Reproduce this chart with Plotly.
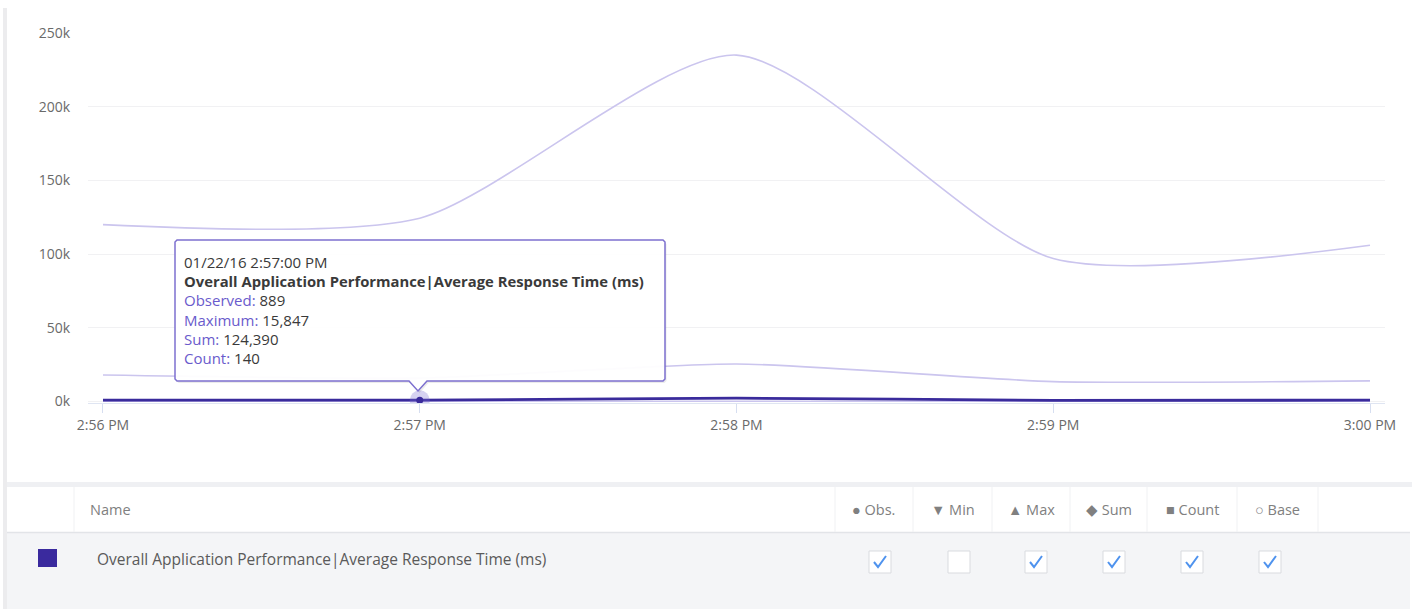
import plotly.graph_objects as go

# data (1-minute samples)
times = ["2016-01-22 14:56:00", "2016-01-22 14:57:00", "2016-01-22 14:58:00",
         "2016-01-22 14:59:00", "2016-01-22 15:00:00"]
observed = [950, 889, 2300, 800, 900]
maximum = [18000, 15847, 25500, 13500, 14000]
sums = [120000, 124390, 235000, 97000, 106000]
counts = [150, 140, 160, 130, 140]

y_ticks = [0, 50000, 100000, 150000, 200000, 250000]
y_ticktext = ["0k", "50k", "100k", "150k", "200k", "250k"]

metric_name = "Overall Application Performance|Average Response Time (ms)"
hover_idx = 1
hover_label = "01/22/16 2:57:00 PM"

columns = ["● Obs.", "▼ Min", "▲ Max", "◆ Sum", "■ Count", "○ Base"]
checked = [True, False, True, True, True, True]

W, H = 1416, 609
L, R, T, B = 88, 31, 33, 206
PW, PH = W - L - R, H - T - B

def px(x):
    return (x - L) / PW

def py(y):
    return (H - B - y) / PH

LIGHT = "#cbc5ee"
DARK = "#3a2b9c"
ACCENT = "#6a5bcc"
FONT = "Open Sans"

fig = go.Figure()
fig.add_trace(go.Scatter(x=times, y=sums, mode="lines", line=dict(color=LIGHT, width=1.6, shape="spline", smoothing=0.7), hoverinfo="skip"))
fig.add_trace(go.Scatter(x=times, y=maximum, mode="lines", line=dict(color=LIGHT, width=1.6, shape="spline", smoothing=0.6), hoverinfo="skip"))
fig.add_trace(go.Scatter(x=times, y=counts, mode="lines", line=dict(color=LIGHT, width=1.5, shape="spline"), hoverinfo="skip"))
fig.add_trace(go.Scatter(x=times, y=observed, mode="lines", line=dict(color=DARK, width=2.8, shape="spline", smoothing=0.6), hoverinfo="skip"))
# hovered point with halo
fig.add_trace(go.Scatter(x=[times[hover_idx]], y=[observed[hover_idx]], mode="markers",
                         marker=dict(size=20, color="rgba(120,105,210,0.3)"), hoverinfo="skip"))
fig.add_trace(go.Scatter(x=[times[hover_idx]], y=[observed[hover_idx]], mode="markers",
                         marker=dict(size=7, color=DARK), hoverinfo="skip"))

shapes = []
annotations = []

# tooltip box with pointer
def path(points):
    s = "M " + " L ".join("%.5f,%.5f" % (px(x), py(y)) for x, y in points) + " Z"
    return s

box = [(177, 240), (663, 240), (665, 242), (665, 379), (663, 381), (427, 381), (418, 391),
       (409, 381), (177, 381), (175, 379), (175, 242)]
shadow = [(x + 1.5, y + 2) for x, y in box]
shapes.append(dict(type="path", xref="paper", yref="paper", path=path(shadow),
                   fillcolor="rgba(0,0,0,0.08)", line=dict(width=0)))
shapes.append(dict(type="path", xref="paper", yref="paper", path=path(box),
                   fillcolor="rgba(255,255,255,0.96)", line=dict(color="#7d70cf", width=1.5)))

tip_lines = [
    hover_label,
    "<b>%s</b>" % metric_name,
    "<span style='color:%s'>Observed:</span> %s" % (ACCENT, f"{observed[hover_idx]:,}"),
    "<span style='color:%s'>Maximum:</span> %s" % (ACCENT, f"{maximum[hover_idx]:,}"),
    "<span style='color:%s'>Sum:</span> %s" % (ACCENT, f"{sums[hover_idx]:,}"),
    "<span style='color:%s'>Count:</span> %s" % (ACCENT, f"{counts[hover_idx]:,}"),
]
for i, t in enumerate(tip_lines):
    annotations.append(dict(xref="paper", yref="paper", x=px(182), y=py(262 + 19.2 * i), text=t,
                            showarrow=False, xanchor="left", yanchor="middle",
                            font=dict(family=FONT, size=15 if i != 1 else 14.8, color="#3a3a3a")))

# panel border on left
shapes.append(dict(type="rect", xref="paper", yref="paper", x0=px(3), x1=px(7), y0=py(609), y1=py(8),
                   fillcolor="#ececee", line=dict(width=0), layer="below"))

# table area
shapes.append(dict(type="rect", xref="paper", yref="paper", x0=px(7), x1=px(1412), y0=py(487), y1=py(482),
                   fillcolor="#eff0f3", line=dict(width=0)))
shapes.append(dict(type="rect", xref="paper", yref="paper", x0=px(7), x1=px(1410), y0=py(609), y1=py(533),
                   fillcolor="#f4f5f7", line=dict(width=0)))
shapes.append(dict(type="line", xref="paper", yref="paper", x0=px(7), x1=px(1410), y0=py(532.5), y1=py(532.5),
                   line=dict(color="#e2e4e8", width=1.5)))

seps = [74, 835, 913, 992, 1070, 1147, 1237, 1318]
for s in seps:
    shapes.append(dict(type="line", xref="paper", yref="paper", x0=px(s), x1=px(s), y0=py(487), y1=py(532),
                       line=dict(color="#f0f1f3", width=1)))

annotations.append(dict(xref="paper", yref="paper", x=px(88), y=py(509), text="Name", showarrow=False,
                        xanchor="left", yanchor="middle", font=dict(family=FONT, size=14.5, color="#808080")))
for i, c in enumerate(columns):
    cx = (seps[i + 1] + seps[i + 2]) / 2
    annotations.append(dict(xref="paper", yref="paper", x=px(cx), y=py(509), text=c, showarrow=False,
                            xanchor="center", yanchor="middle", font=dict(family=FONT, size=14.5, color="#808080")))

# series row
shapes.append(dict(type="rect", xref="paper", yref="paper", x0=px(38), x1=px(57), y0=py(567), y1=py(549),
                   fillcolor="#3a2a9e", line=dict(width=0)))
annotations.append(dict(xref="paper", yref="paper", x=px(95), y=py(559), text=metric_name, showarrow=False,
                        xanchor="left", yanchor="middle", font=dict(family=FONT, size=15.5, color="#5a5a5a")))

box_x = [880, 959, 1036, 1114, 1192, 1270]
for cx, on in zip(box_x, checked):
    shapes.append(dict(type="rect", xref="paper", yref="paper", x0=px(cx - 11), x1=px(cx + 11),
                       y0=py(573), y1=py(551), fillcolor="white", line=dict(color="#d9dbdf", width=1)))
    if on:
        shapes.append(dict(type="path", xref="paper", yref="paper",
                           path="M %.5f,%.5f L %.5f,%.5f L %.5f,%.5f" % (px(cx - 6), py(562), px(cx - 2), py(567),
                                                                          px(cx + 6), py(556)),
                           line=dict(color="#4f93ee", width=2)))

fig.update_layout(
    width=W, height=H,
    margin=dict(l=L, r=R, t=T, b=B),
    plot_bgcolor="white", paper_bgcolor="white",
    showlegend=False,
    font=dict(family=FONT, size=14, color="#6a6a6a"),
    shapes=shapes, annotations=annotations,
    xaxis=dict(type="date", range=["2016-01-22 14:55:57.16", "2016-01-22 15:00:02.84"],
               tickvals=times, tickformat="%-I:%M %p", showgrid=False, zeroline=False,
               showline=True, linecolor="#dfe5f2", linewidth=1,
               ticks="outside", ticklen=9, tickcolor="#d6def0",
               tickfont=dict(family=FONT, size=14, color="#6a6a6a")),
    yaxis=dict(range=[-1000, 250000], tickvals=y_ticks, ticktext=y_ticktext,
               showgrid=True, gridcolor="#f1f1f3", gridwidth=1, zeroline=False,
               ticks="", ticklabelstandoff=17,
               tickfont=dict(family=FONT, size=14, color="#6a6a6a")),
)

fig.write_html("out.html", config={"displayModeBar": False},
               post_script="document.body.style.margin='0';")
